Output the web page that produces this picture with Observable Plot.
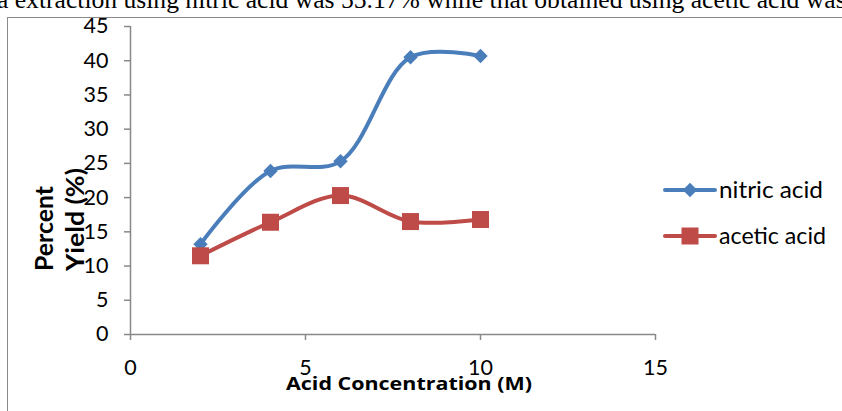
<!DOCTYPE html>
<html><head><meta charset="utf-8">
<script src="https://cdn.jsdelivr.net/npm/d3@7"></script>
<script src="https://cdn.jsdelivr.net/npm/@observablehq/plot@0.6"></script>
<style>
body{margin:0;background:#fff;width:842px;height:411px;overflow:hidden;position:relative;}
#title{position:absolute;left:-3px;top:-13px;line-height:25px;font-family:"Liberation Serif",serif;font-size:25.6px;white-space:nowrap;color:#000;}
#frame{position:absolute;left:7px;top:17px;width:900px;height:500px;border:1px solid #8a8a8a;box-sizing:border-box;}
#chart{position:absolute;left:0;top:0;}
#overlay{position:absolute;left:0;top:0;}
</style></head>
<body>
<div id="title">a extraction using nitric acid was 55.17% while that obtained using acetic acid was 5</div>
<div id="frame"></div>
<div id="chart"></div>
<svg id="overlay" width="842" height="411"></svg>
<script>
const concentration = [2, 4, 6, 8, 10];
const nitricYield = [13.2, 23.9, 25.3, 40.5, 40.7];
const aceticYield = [11.5, 16.4, 20.3, 16.5, 16.8];
const seriesNames = ["nitric acid", "acetic acid"];
const xTicks = [0, 5, 10, 15];
const yTicks = [0, 5, 10, 15, 20, 25, 30, 35, 40, 45];
const xTitle = "Acid Concentration (M)";
const yTitleLines = ["Percent", "Yield (%)"];

const blue = "#4a7ebb", red = "#be4b48";
const nitric = concentration.map((c, i) => ({x: c, y: nitricYield[i]}));
const acetic = concentration.map((c, i) => ({x: c, y: aceticYield[i]}));

const plot = Plot.plot({
  width: 842, height: 411,
  marginLeft: 130, marginRight: 187, marginTop: 26, marginBottom: 77,
  x: {domain: [0, 15]},
  y: {domain: [0, 45]},
  style: {fontFamily: "Lato, sans-serif", fontSize: "21.5px", color: "#000", background: "transparent", overflow: "visible"},
  marks: [
    Plot.axisY({ticks: yTicks, tickSize: 6, tickPadding: 16, stroke: "#888", fill: "#000", label: null, strokeWidth: 1.5}),
    Plot.axisX({ticks: xTicks, tickSize: 6, tickPadding: 19, stroke: "#888", fill: "#000", label: null, strokeWidth: 1.5}),
    Plot.ruleY([0], {stroke: "#888", strokeWidth: 1.5}),
    Plot.ruleX([0], {stroke: "#888", strokeWidth: 1.5}),
    Plot.line(nitric, {x: "x", y: "y", stroke: blue, strokeWidth: 4, curve: "catmull-rom"}),
    Plot.line(acetic, {x: "x", y: "y", stroke: red, strokeWidth: 4, curve: "catmull-rom"}),
    Plot.dot(nitric, {x: "x", y: "y", symbol: "diamond2", r: 6.5, fill: blue, stroke: null}),
    Plot.dot(acetic, {x: "x", y: "y", symbol: "square", r: 9.6, fill: red, stroke: null})
  ]
});
document.getElementById("chart").appendChild(plot);

// titles and legend
const ov = d3.select("#overlay");
ov.append("text").attr("x", 409).attr("y", 390).attr("text-anchor", "middle")
  .attr("font-family", "Open Sans, sans-serif").attr("font-weight", "bold").attr("font-size", 17)
  .attr("textLength", 246).attr("lengthAdjust", "spacingAndGlyphs")
  .text(xTitle);
const yTitleLen = [85, 103];
const yTitleX = [53, 84];
yTitleLines.forEach((t, i) => {
  ov.append("text").attr("transform", `translate(${yTitleX[i]},271) rotate(-90)`)
    .attr("font-family", "Lato, sans-serif").attr("font-weight", "bold").attr("font-size", 24)
    .attr("textLength", yTitleLen[i]).attr("lengthAdjust", "spacingAndGlyphs")
    .text(t);
});
const legendY = [190, 236];
const legendLen = [104, 107];
const colors = [blue, red];
const syms = [d3.symbolDiamond2, d3.symbolSquare];
const sizes = [135, 289];
seriesNames.forEach((name, i) => {
  const g = ov.append("g").attr("transform", `translate(0,${legendY[i]})`);
  g.append("line").attr("x1", 665).attr("x2", 715).attr("stroke", colors[i]).attr("stroke-width", 4).attr("stroke-linecap", "round");
  g.append("path").attr("transform", "translate(690,0)").attr("d", d3.symbol(syms[i], sizes[i])()).attr("fill", colors[i]);
  g.append("text").attr("x", 719).attr("y", 8).attr("font-family", "Lato, sans-serif").attr("font-size", 23)
    .attr("textLength", legendLen[i]).attr("lengthAdjust", "spacingAndGlyphs").text(name);
});
</script>
</body></html>
